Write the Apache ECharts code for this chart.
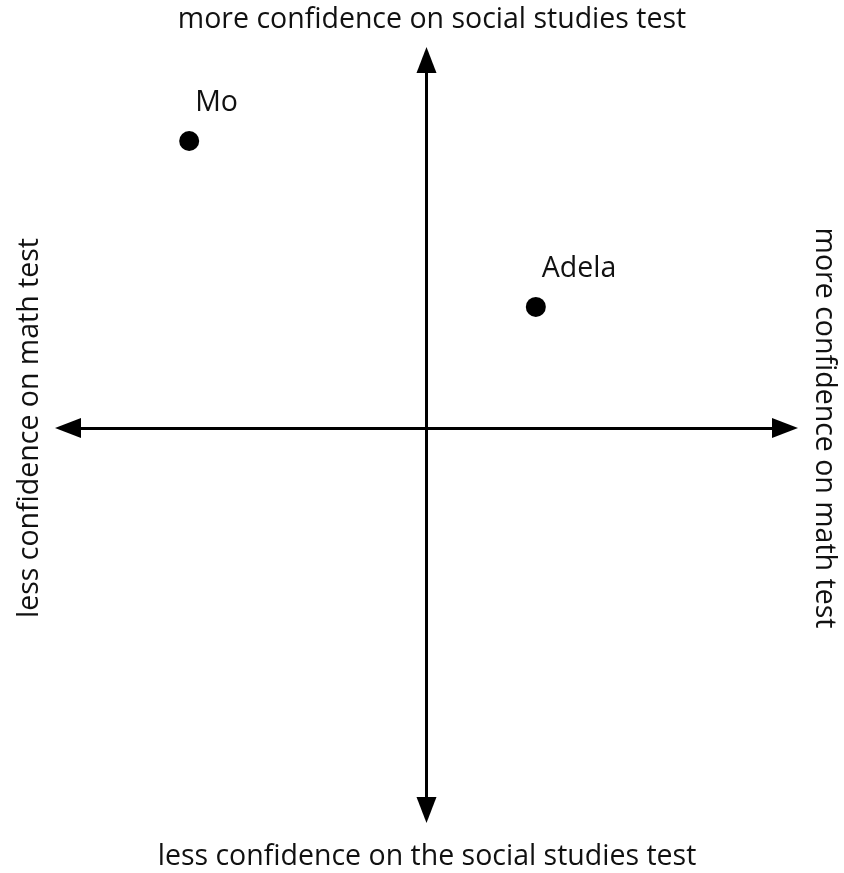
<!DOCTYPE html>
<html>
<head>
<meta charset="utf-8">
<script src="https://cdn.jsdelivr.net/npm/echarts@6/dist/echarts.min.js"></script>
<style>
    html, body { margin: 0; padding: 0; background: #fff; }
    #main { width: 844px; height: 873px; }
</style>
</head>
<body>
<div id="main"></div>
<script>
    // people and where they sit (x = math confidence, y = social studies confidence)
    var names = ['Mo', 'Adela'];
    var mathConf = [-6.62, 3.05];
    var socialConf = [7.80, 3.29];

    // axis end labels
    var topLabel = 'more confidence on social studies test';
    var bottomLabel = 'less confidence on the social studies test';
    var leftLabel = 'less confidence on math test';
    var rightLabel = 'more confidence on math test';

    var FONT = '"Open Sans", Lato, sans-serif';
    var FS = 28.5;

    var chart = echarts.init(document.getElementById('main'));

    var points = [];
    for (var i = 0; i < names.length; i++) {
        points.push({name: names[i], value: [mathConf[i], socialConf[i]]});
    }

    // both axes: plain black line with an arrowhead at each end
    var axisLine = {
        show: true,
        onZero: true,
        symbol: ['triangle', 'triangle'],
        symbolSize: [20, 26],
        lineStyle: {color: '#000', width: 3}
    };

    function txt(s, x, y, rot) {
        return {
            type: 'text', x: x, y: y, rotation: rot || 0,
            style: {text: s, fill: '#111', font: FS + 'px ' + FONT, textAlign: 'center', textVerticalAlign: 'middle'}
        };
    }

    chart.setOption({
        animation: false,
        backgroundColor: '#fff',
        grid: {left: 68, right: 59, top: 60, bottom: 63},
        xAxis: {
            type: 'value', min: -10, max: 10,
            axisLine: axisLine,
            axisTick: {show: false}, axisLabel: {show: false}, splitLine: {show: false}
        },
        yAxis: {
            type: 'value', min: -10.38, max: 10,
            axisLine: axisLine,
            axisTick: {show: false}, axisLabel: {show: false}, splitLine: {show: false}
        },
        series: [{
            type: 'scatter',
            data: points,
            symbolSize: 20,
            itemStyle: {color: '#000', opacity: 1},
            label: {
                show: true,
                formatter: '{b}',
                position: 'top',
                distance: 0,
                align: 'left',
                verticalAlign: 'middle',
                offset: [6, -28],
                color: '#111',
                fontSize: FS,
                fontFamily: FONT
            }
        }],
        graphic: [
            txt(topLabel, 432, 20),
            txt(bottomLabel, 427, 857),
            txt(leftLabel, 30, 428, Math.PI / 2),
            txt(rightLabel, 824, 428, -Math.PI / 2)
        ]
    });
</script>
</body>
</html>
